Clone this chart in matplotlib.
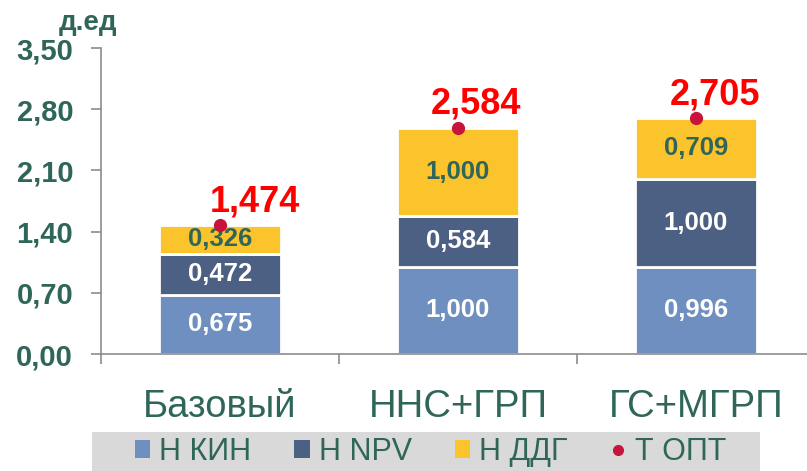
import matplotlib
matplotlib.use("Agg")
import matplotlib.pyplot as plt
from matplotlib.patches import Patch, Rectangle
from matplotlib.lines import Line2D

categories = ["Базовый", "ННС+ГРП", "ГС+МГРП"]
h_kin = [0.675, 1.000, 0.996]
h_npv = [0.472, 0.584, 1.000]
h_ddg = [0.326, 1.000, 0.709]
t_opt = [1.474, 2.584, 2.705]
t_opt_labels = ["1,474", "2,584", "2,705"]
yticks = [0.0, 0.7, 1.4, 2.1, 2.8, 3.5]
ytick_labels = ["0,00", "0,70", "1,40", "2,10", "2,80", "3,50"]
series_names = ["Н КИН", "Н NPV", "Н ДДГ", "Т ОПТ"]
y_unit = "д.ед"

c_kin = "#6F8FC0"
c_npv = "#4B6083"
c_ddg = "#FCC42C"
c_dot = "#C8143C"
teal = "#2F6659"
axis_gray = "#8C8C8C"

FONT = ["Liberation Sans", "DejaVu Sans"]
plt.rcParams["font.family"] = FONT

W, H = 807, 471
fig = plt.figure(figsize=(W / 100, H / 100), dpi=100)
ax = fig.add_axes([101 / W, 117 / H, 714 / W, 306 / H])

x = list(range(len(categories)))
bw = 0.51
bottoms2 = [a + b for a, b in zip(h_kin, h_npv)]
b1 = ax.bar(x, h_kin, bw, color=c_kin, edgecolor="white", linewidth=2)
b2 = ax.bar(x, h_npv, bw, bottom=h_kin, color=c_npv, edgecolor="white", linewidth=2)
b3 = ax.bar(x, h_ddg, bw, bottom=bottoms2, color=c_ddg, edgecolor="white", linewidth=2)

def fmt(v):
    return f"{v:.3f}".replace(".", ",")

for bars, vals, col in [(b1, h_kin, "white"), (b2, h_npv, "white"), (b3, h_ddg, teal)]:
    ax.bar_label(bars, labels=[fmt(v) for v in vals], label_type="center",
                 color=col, fontsize=18.5, fontweight="bold")

ax.plot(x, t_opt, "o", color=c_dot, markersize=8.5, zorder=5)
offsets = [(25, 17), (13, 17), (14, 16)]
for xi, v, lab, off in zip(x, t_opt, t_opt_labels, offsets):
    ax.annotate(lab, (xi, v), xytext=off, textcoords="offset points",
                ha="center", va="center", color="#FF0000", fontsize=26,
                fontweight="bold")

ax.set_ylim(0, 3.5)
ax.set_xlim(-0.5, 2.5)
ax.set_yticks(yticks)
ax.set_yticklabels(ytick_labels)
ax.tick_params(axis="y", direction="out", length=7, width=1.2, color=axis_gray,
               pad=13, labelsize=21, labelcolor=teal)
for t in ax.get_yticklabels():
    t.set_fontweight("bold")

ax.set_xticks(x)
ax.set_xticklabels(categories)
ax.tick_params(axis="x", which="major", length=0, pad=25, labelsize=27.5, labelcolor=teal)
ax.set_xticks([-0.5, 0.5, 1.5, 2.5], minor=True)
ax.tick_params(axis="x", which="minor", direction="out", length=7, width=1.2, color=axis_gray)

for s in ["top", "right"]:
    ax.spines[s].set_visible(False)
for s in ["left", "bottom"]:
    ax.spines[s].set_color(axis_gray)
    ax.spines[s].set_linewidth(1.2)

fig.text(88 / W, 1 - 23 / H, y_unit, ha="center", va="center", color=teal,
         fontsize=20, fontweight="bold")

# legend band
fig.patches.append(Rectangle((92 / W, 0), (760 - 92) / W, (471 - 432) / H,
                             transform=fig.transFigure, facecolor="#D9D9D9",
                             edgecolor="none", zorder=0))

handles = [
    Patch(facecolor=c_kin, edgecolor="none"),
    Patch(facecolor=c_npv, edgecolor="none"),
    Patch(facecolor=c_ddg, edgecolor="none"),
    Line2D([], [], marker="o", linestyle="none", color=c_dot, markersize=7),
]
leg = fig.legend(handles, series_names, loc="center left",
                 bbox_to_anchor=(135 / W, 1 - 452 / H), ncol=4, frameon=False,
                 borderaxespad=0, borderpad=0,
                 handlelength=0.5, handleheight=0.5,
                 handletextpad=0.3, columnspacing=1.4,
                 prop={"size": 22})
for t in leg.get_texts():
    t.set_color(teal)

fig.savefig("out.png", dpi=100, facecolor="white")
